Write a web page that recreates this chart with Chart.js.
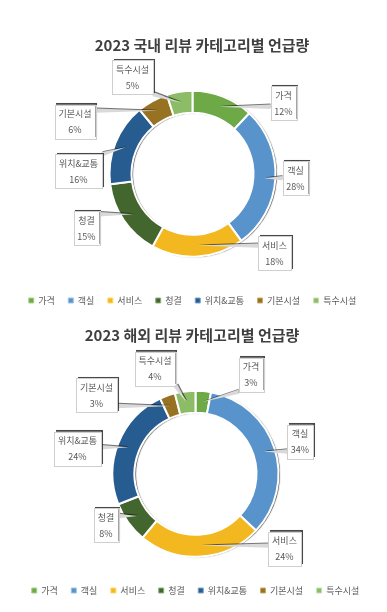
<!DOCTYPE html>
<html>
<head>
<meta charset="utf-8">
<script src="https://cdn.jsdelivr.net/npm/chart.js@4"></script>
<style>
  html, body { margin: 0; padding: 0; background: #ffffff; }
  body { width: 387px; height: 612px; position: relative; overflow: hidden; }
  .wrap { position: absolute; left: 0; width: 387px; }
  #w1 { top: 0; height: 315px; }
  #w2 { top: 300px; height: 305px; }
</style>
</head>
<body>
<div class="wrap" id="w1"><canvas id="c1"></canvas></div>
<div class="wrap" id="w2"><canvas id="c2"></canvas></div>
<script>
const categories = ['가격', '객실', '서비스', '청결', '위치&교통', '기본시설', '특수시설'];
const domesticValues = [12, 28, 18, 15, 16, 6, 5];
const overseasValues = [3, 34, 24, 8, 24, 3, 4];
const domesticTitle = '2023 국내 리뷰 카테고리별 언급량';
const overseasTitle = '2023 해외 리뷰 카테고리별 언급량';
const colors = ['#6EA948', '#5894CB', '#F3B81F', '#43652E', '#265C8F', '#977223', '#8CBD66'];
const legendBorders = ['#A9D18E', '#9DC3E6', '#FFD966', '#8FB37A', '#7FA3C8', '#C9A96A', '#C5E0B4'];

// callout box centres, relative to the doughnut centre (layout only)
const domesticCallouts = [[91, -70.5], [103, 4.5], [82, 79.5], [-106, 54.5], [-114, -2.5], [-117.5, -52], [-60, -96.5]];
const overseasCallouts = [[55.5, -99], [104.5, -32], [89, 75], [-89.5, 51.5], [-118, -25], [-99, -78.5], [-40.5, -105]];

const FONT = "'Noto Sans CJK KR', 'Noto Sans', sans-serif";

const ringShadow = {
  id: 'ringShadow',
  beforeDatasetsDraw(chart) {
    const arc = chart.getDatasetMeta(0).data[0];
    if (!arc) return;
    const {x, y, innerRadius, outerRadius} = arc.getProps(['x', 'y', 'innerRadius', 'outerRadius'], true);
    const ctx = chart.ctx;
    ctx.save();
    ctx.beginPath();
    ctx.arc(x, y, outerRadius, 0, Math.PI * 2);
    ctx.arc(x, y, innerRadius, 0, Math.PI * 2, true);
    ctx.shadowColor = 'rgba(0,0,0,0.7)';
    ctx.shadowOffsetX = 1.5;
    ctx.shadowOffsetY = 0.5;
    ctx.shadowBlur = 1;
    ctx.fillStyle = '#ffffff';
    ctx.fill();
    ctx.restore();
  }
};

const titlePlugin = {
  id: 'customTitle',
  afterDraw(chart, args, opts) {
    const ctx = chart.ctx;
    ctx.save();
    ctx.font = 'bold ' + opts.size + 'px ' + FONT;
    ctx.fillStyle = '#404040';
    ctx.textAlign = 'center';
    ctx.textBaseline = 'middle';
    ctx.fillText(opts.text, chart.width / 2 + opts.dx, opts.y);
    ctx.restore();
  }
};

const callouts = {
  id: 'callouts',
  afterDatasetsDraw(chart, args, opts) {
    const ctx = chart.ctx;
    const meta = chart.getDatasetMeta(0);
    const values = chart.data.datasets[0].data;
    const labels = chart.data.labels;
    meta.data.forEach((arc, i) => {
      const p = arc.getProps(['x', 'y', 'startAngle', 'endAngle', 'innerRadius', 'outerRadius'], true);
      const mid = (p.startAngle + p.endAngle) / 2;
      const r = (p.innerRadius + p.outerRadius) / 2;
      const ax = p.x + Math.cos(mid) * r;
      const ay = p.y + Math.sin(mid) * r;
      const off = opts.offsets[i];
      const bx = p.x + off[0], by = p.y + off[1];
      const label = labels[i];
      const pct = values[i] + '%';
      ctx.save();
      ctx.font = '9px ' + FONT;
      const tw = Math.max(ctx.measureText(label).width, ctx.measureText(pct).width);
      const w = Math.round(tw + 8), h = 34;
      const left = bx - w / 2, top = by - h / 2;
      const px = Math.min(Math.max(ax, left), left + w);
      const py = Math.min(Math.max(ay, top), top + h);
      // wedge leader
      let dx = ax - px, dy = ay - py;
      const len = Math.hypot(dx, dy) || 1;
      const nx = -dy / len * 2.2, ny = dx / len * 2.2;
      ctx.beginPath();
      ctx.moveTo(px + nx, py + ny);
      ctx.lineTo(ax, ay);
      ctx.lineTo(px - nx, py - ny);
      ctx.closePath();
      ctx.shadowColor = 'rgba(0,0,0,0.55)';
      ctx.shadowOffsetX = 1;
      ctx.shadowOffsetY = -1;
      ctx.shadowBlur = 0;
      ctx.fillStyle = '#D9D9D9';
      ctx.fill();
      // box
      ctx.shadowColor = 'rgba(40,40,40,0.85)';
      ctx.shadowOffsetX = 1.5;
      ctx.shadowOffsetY = -1.5;
      ctx.shadowBlur = 0.5;
      ctx.fillStyle = '#ffffff';
      ctx.fillRect(left, top, w, h);
      ctx.shadowColor = 'transparent';
      ctx.strokeStyle = '#CFCFCF';
      ctx.lineWidth = 1;
      ctx.strokeRect(Math.round(left) + 0.5, Math.round(top) + 0.5, w, h);
      ctx.fillStyle = '#595959';
      ctx.textAlign = 'center';
      ctx.textBaseline = 'middle';
      ctx.fillText(label, bx, by - 8);
      ctx.fillText(pct, bx, by + 8);
      ctx.restore();
    });
  }
};

function makeChart(id, values, offsets, title, titleY, titleDx, padding) {
  return new Chart(document.getElementById(id), {
    type: 'doughnut',
    data: {
      labels: categories,
      datasets: [{
        data: values,
        backgroundColor: colors,
        borderColor: '#ffffff',
        borderWidth: 2
      }]
    },
    options: {
      responsive: true,
      maintainAspectRatio: false,
      animation: false,
      radius: 83,
      cutout: '73.5%',
      layout: { padding: padding },
      plugins: {
        tooltip: { enabled: false },
        legend: {
          position: 'bottom',
          labels: {
            boxWidth: 5,
            boxHeight: 5,
            padding: 13.5,
            color: '#595959',
            font: { family: FONT, size: 9 },
            generateLabels(chart) {
              return chart.data.labels.map((t, i) => ({
                text: t,
                fillStyle: colors[i],
                strokeStyle: legendBorders[i],
                lineWidth: 1,
                fontColor: '#595959',
                hidden: false,
                index: i
              }));
            }
          }
        },
        customTitle: { text: title, y: titleY, dx: titleDx, size: 15 },
        callouts: { offsets: offsets }
      }
    },
    plugins: [ringShadow, callouts, titlePlugin]
  });
}

makeChart('c1', domesticValues, domesticCallouts, domesticTitle, 45, 8.5, { top: 65, left: 0, right: 2, bottom: 0 });
makeChart('c2', overseasValues, overseasCallouts, overseasTitle, 35, -1.5, { top: 75, left: 4, right: 0, bottom: 0 });
</script>
</body>
</html>
